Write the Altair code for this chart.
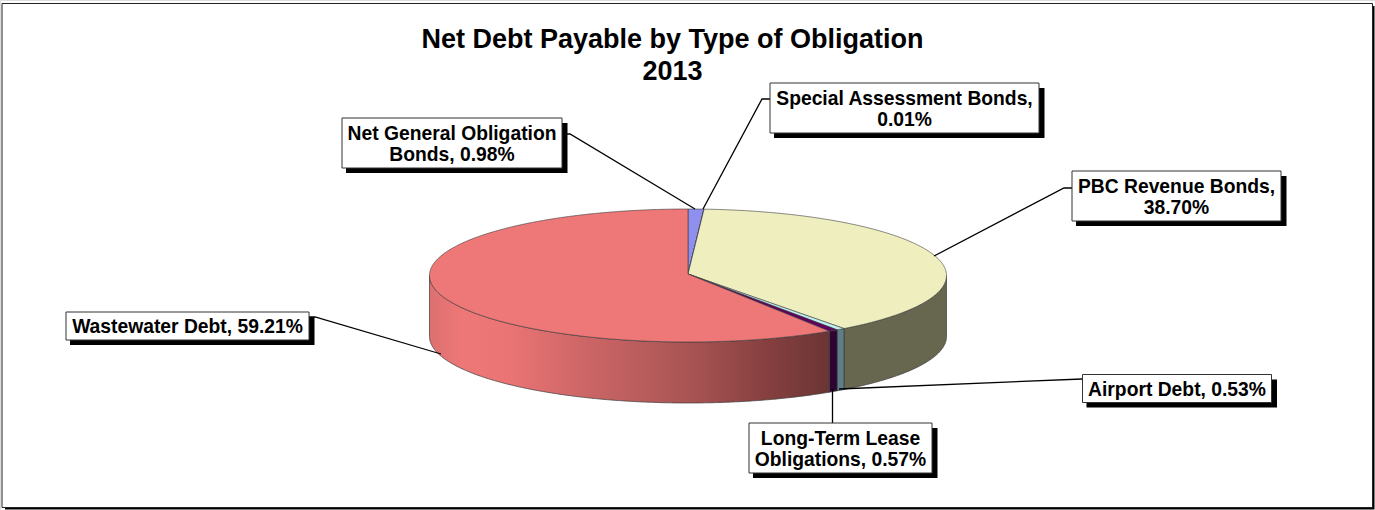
import math
import altair as alt
import pandas as pd

# Shares of net debt payable, clockwise from twelve o'clock
obligations = ["Net General Obligation Bonds", "Special Assessment Bonds", "PBC Revenue Bonds",
               "Airport Debt", "Long-Term Lease Obligations", "Wastewater Debt"]
shares = [0.98, 0.01, 38.70, 0.53, 0.57, 59.21]
top_colors = ["#8f8fee", "#8f3060", "#eeeebe", "#bfeeee", "#600060", "#ee7777"]
title_lines = ["Net Debt Payable by Type of Obligation", "2013"]

# Callout wording, one entry per line of each box
callout_text = [["Net General Obligation", "Bonds, {:.2f}%"], ["Special Assessment Bonds,", "{:.2f}%"],
                ["PBC Revenue Bonds,", "{:.2f}%"], ["Airport Debt, {:.2f}%"],
                ["Long-Term Lease", "Obligations, {:.2f}%"], ["Wastewater Debt, {:.2f}%"]]

# Callout boxes as left, right, top, bottom
boxes = [(342, 562, 118, 168), (770, 1039, 83, 133), (1072, 1281, 171, 221),
         (1082.5, 1271.5, 374.5, 402.5), (749, 932, 423, 473), (66, 309, 312, 340)]
# Leader lines from box edge to pie edge
leaders = [[(562, 134), (570, 134), (695, 209)],
           [(770, 99), (762, 99), (703, 209)],
           [(1072, 188), (1064, 188), (934, 256)],
           [(1082, 379), (839, 389)],
           [(832.5, 423), (832.5, 389)],
           [(309, 317), (315, 317), (441, 354)]]

# Tilted pie geometry
CX, CY, RX, RY, DEPTH = 688, 275.5, 258.5, 66.5, 61
WIDTH, HEIGHT = 1375, 510
EDGE = "#3a3a3a"
LINE_HEIGHT = 21.7


def rim(start, end, drop=0.0):
    """Points along the ellipse between two clockwise angles in degrees."""
    steps = max(2, int(abs(end - start) * 2))
    pts = []
    for i in range(steps + 1):
        a = math.radians(start + (end - start) * i / steps)
        pts.append([CX + RX * math.sin(a), CY - RY * math.cos(a) + drop])
    return pts


def feature(points):
    ring = points + [points[0]]
    return {"type": "Feature", "properties": {}, "geometry": {"type": "Polygon", "coordinates": [ring]}}


def shape(points, fill, stroke=EDGE, width=0.7):
    return (alt.Chart(alt.Data(values=[feature(points)]))
            .mark_geoshape(fill=fill, stroke=stroke, strokeWidth=width)
            .project(type="identity", scale=1, translate=[0, 0]))


def ramp(*stops):
    return alt.LinearGradient(gradient="linear", x1=0, y1=0, x2=1, y2=0,
                              stops=[alt.GradientStop(offset=o, color=c) for o, c in stops])


def wall(start, end):
    lo, hi = max(start, 90), min(end, 270)
    return rim(lo, hi) + rim(hi, lo, DEPTH)


angles = [0]
for s in shares:
    angles.append(angles[-1] + s * 3.6)

# Side walls visible on the front half of the pie
wall_fills = {
    2: "#67674f",
    3: "#5f7f88",
    4: "#2e0433",
    5: ramp((0, "#dc7070"), (0.08, "#ee7777"), (0.2, "#ea7474"), (0.4, "#cb6565"),
            (0.65, "#a95454"), (0.85, "#853f3f"), (1, "#6b3535")),
}
layers = []
for i, fill in wall_fills.items():
    layers.append(shape(wall(angles[i], angles[i + 1]), fill))
# Top faces
for i, fill in enumerate(top_colors):
    layers.append(shape([[CX, CY - 1.5]] + rim(angles[i], angles[i + 1]), fill, width=0.6))

x_px = alt.Scale(domain=[0, WIDTH], range=[0, WIDTH])
y_px = alt.Scale(domain=[0, HEIGHT], range=[0, HEIGHT])

# Chart frame with its drop edge
frame = pd.DataFrame([{"x": 2, "x2": 1372.5, "y": 3.5, "y2": 507.5}])
frame_shadow = pd.DataFrame([{"x": 5, "x2": 1374.5, "y": 6, "y2": 509.5}])


def rects(df, fill, stroke=None):
    kw = {"fill": fill}
    if stroke:
        kw.update(stroke=stroke, strokeWidth=1)
    return alt.Chart(df).mark_rect(**kw).encode(
        x=alt.X("x:Q", scale=x_px, axis=None), x2="x2:Q",
        y=alt.Y("y:Q", scale=y_px, axis=None), y2="y2:Q")


backdrop = [rects(frame_shadow, "#000000"), rects(frame, "#ffffff", "#222222")]

leader_rows = [{"leader": n, "step": k, "x": p[0], "y": p[1]}
               for n, path in enumerate(leaders) for k, p in enumerate(path)]
leader_layer = alt.Chart(pd.DataFrame(leader_rows)).mark_line(color="#000000", strokeWidth=1.3).encode(
    x=alt.X("x:Q", scale=x_px, axis=None), y=alt.Y("y:Q", scale=y_px, axis=None),
    detail="leader:N", order="step:Q")

box_df = pd.DataFrame(boxes, columns=["x", "x2", "y", "y2"])
shadow_df = box_df.assign(x=box_df.x + 4, x2=box_df.x2 + 5.5, y=box_df.y + 5, y2=box_df.y2 + 5)

# One text row per line, with baselines set around the box centre
label_rows = []
for lines, value, (left, right, top, bottom) in zip(callout_text, shares, boxes):
    first = (top + bottom) / 2 + (7.4 if len(lines) == 1 else -3.3)
    for k, line in enumerate(lines):
        label_rows.append({"label": line.format(value), "x": (left + right) / 2, "y": first + k * LINE_HEIGHT})
labels = alt.Chart(pd.DataFrame(label_rows)).mark_text(
    font="Liberation Sans", fontWeight="bold", fontSize=19.3, color="#000000",
    align="center", baseline="alphabetic",
).encode(x=alt.X("x:Q", scale=x_px, axis=None), y=alt.Y("y:Q", scale=y_px, axis=None), text="label:N")

title_df = pd.DataFrame({"line": title_lines, "x": [672.5, 672.5], "y": [48, 80]})
title = alt.Chart(title_df).mark_text(
    font="Liberation Sans", fontWeight="bold", fontSize=27, color="#000000",
    align="center", baseline="alphabetic",
).encode(x=alt.X("x:Q", scale=x_px, axis=None), y=alt.Y("y:Q", scale=y_px, axis=None), text="line:N")

chart = alt.layer(
    *backdrop, *layers, leader_layer,
    rects(shadow_df, "#000000"), rects(box_df, "#ffffff", "#333333"), labels, title,
).properties(
    width=WIDTH, height=HEIGHT, padding=0, autosize=alt.AutoSizeParams(type="none"),
).configure_view(stroke=None).configure(background="#ffffff")

chart.save("out.html", embed_options={"renderer": "svg", "actions": False})
